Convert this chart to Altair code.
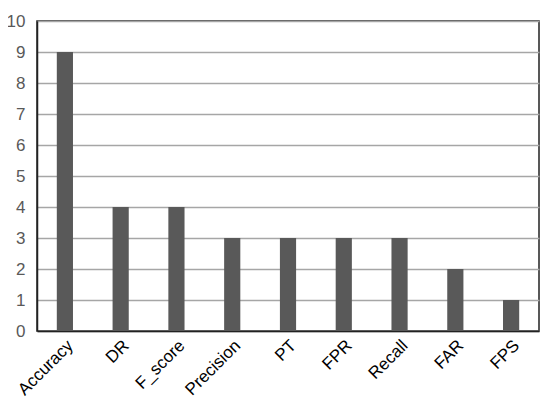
import altair as alt
import pandas as pd

metrics = ["Accuracy", "DR", "F_score", "Precision", "PT", "FPR", "Recall", "FAR", "FPS"]
counts = [9, 4, 4, 3, 3, 3, 3, 2, 1]
y_ticks = list(range(0, 11))

df = pd.DataFrame({"metric": metrics, "count": counts})

chart = alt.Chart(df).mark_bar(color="#595959").encode(
    x=alt.X("metric:N", sort=metrics, title=None,
            scale=alt.Scale(paddingInner=0.71, paddingOuter=0.355),
            axis=alt.Axis(labelAngle=-45, labelFont="Liberation Sans", labelFontSize=17,
                          labelColor="#000000", ticks=False, domain=True, domainColor="#222222",
                          domainWidth=1.5, labelPadding=6)),
    y=alt.Y("count:Q", title=None, scale=alt.Scale(domain=[0, 10], nice=False),
            axis=alt.Axis(values=y_ticks, labelFont="Liberation Sans", labelFontSize=17,
                          labelColor="#595959", ticks=False, domain=True, domainColor="#222222",
                          domainWidth=1.5, labelPadding=12,
                          grid=True, gridColor="#a6a6a6", gridWidth=1.5)),
).properties(
    width=502, height=310,
    autosize=alt.AutoSizeParams(type="none"),
    padding={"left": 29, "top": 13, "right": 3, "bottom": 68},
).configure_view(stroke="#222222", strokeWidth=1.5, strokeOpacity=1)

chart.save("out.html", embed_options={"renderer": "svg", "actions": False})
